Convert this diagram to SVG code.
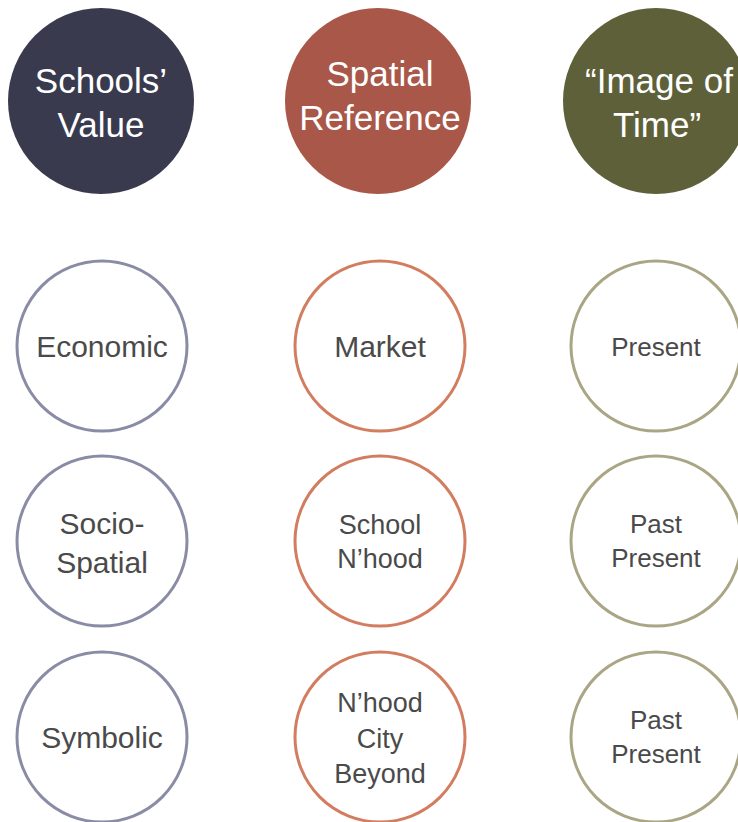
<svg xmlns="http://www.w3.org/2000/svg" width="738" height="822" viewBox="0 0 738 822">
<style>
text{font-family:"Liberation Sans",Arial,sans-serif;text-anchor:middle}
.h{fill:#ffffff;font-size:35px}
.t{fill:#4a4a4a;font-size:30px}
.s{fill:#4a4a4a;font-size:27px}
.p{fill:#4a4a4a;font-size:26px}
.r1{fill:#ffffff;stroke:#8a8ca6;stroke-width:3}
.r2{fill:#ffffff;stroke:#d27d5f;stroke-width:3}
.r3{fill:#ffffff;stroke:#a9a585;stroke-width:3}
</style>
<rect width="738" height="822" fill="#ffffff"/>
<g id="connectors"></g>
<g id="h-value"><circle cx="101" cy="101" r="93" fill="#3a3a4f"/><text class="h" x="101" y="93">Schools’</text><text class="h" x="101" y="137">Value</text></g>
<g id="h-spatial"><circle cx="378" cy="101" r="93" fill="#a85748"/><text class="h" x="380" y="86">Spatial</text><text class="h" x="380" y="130">Reference</text></g>
<g id="h-time"><circle cx="656" cy="101" r="93" fill="#5e6039"/><text class="h" x="659" y="93">“Image of</text><text class="h" x="657" y="137">Time”</text></g>
<g id="economic"><circle class="r1" cx="102" cy="346" r="85"/><text class="t" x="102" y="357">Economic</text></g>
<g id="socio"><circle class="r1" cx="102" cy="541" r="85"/><text class="t" x="102" y="534">Socio-</text><text class="t" x="102" y="573">Spatial</text></g>
<g id="symbolic"><circle class="r1" cx="102" cy="737" r="85"/><text class="t" x="102" y="748">Symbolic</text></g>
<g id="market"><circle class="r2" cx="380" cy="346" r="85"/><text class="t" x="380" y="357">Market</text></g>
<g id="school"><circle class="r2" cx="380" cy="541" r="85"/><text class="s" x="380" y="534">School</text><text class="s" x="380" y="568">N’hood</text></g>
<g id="nhood"><circle class="r2" cx="380" cy="737" r="85"/><text class="s" x="380" y="712">N’hood</text><text class="s" x="380" y="748">City</text><text class="s" x="380" y="783">Beyond</text></g>
<g id="present"><circle class="r3" cx="656" cy="346" r="85"/><text class="p" x="656" y="356">Present</text></g>
<g id="pastpresent1"><circle class="r3" cx="656" cy="541" r="85"/><text class="p" x="656" y="533">Past</text><text class="p" x="656" y="567">Present</text></g>
<g id="pastpresent2"><circle class="r3" cx="656" cy="737" r="85"/><text class="p" x="656" y="729">Past</text><text class="p" x="656" y="763">Present</text></g>
</svg>
